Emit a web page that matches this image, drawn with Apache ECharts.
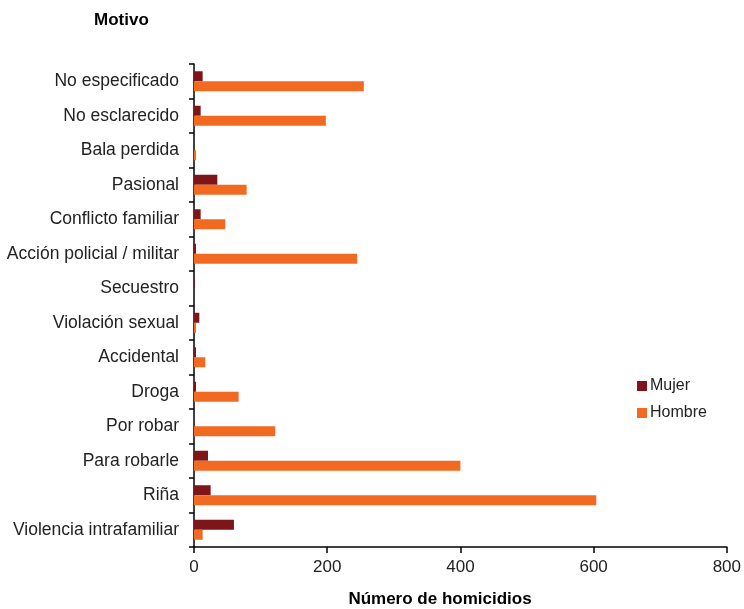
<!DOCTYPE html>
<html>
<head>
<meta charset="utf-8">
<script src="https://cdn.jsdelivr.net/npm/echarts@6/dist/echarts.min.js"></script>
<style>
html,body{margin:0;padding:0;background:#fff;}
#chart{width:744px;height:609px;}
</style>
</head>
<body>
<div id="chart"></div>
<script>
var categories = ["Violencia intrafamiliar","Riña","Para robarle","Por robar","Droga","Accidental","Violación sexual","Secuestro","Acción policial / militar","Conflicto familiar","Pasional","Bala perdida","No esclarecido","No especificado"];
var mujer  = [60, 25, 21, 0, 3, 3, 8, 1, 3, 10, 35, 0, 10, 13];
var hombre = [13, 604, 400, 122, 67, 17, 3, 0, 245, 47, 79, 3, 198, 255];
var xTicks = [0, 200, 400, 600, 800];

var chart = echarts.init(document.getElementById('chart'));
var font = 'Liberation Sans, Arial, sans-serif';
chart.setOption({
  animation: false,
  backgroundColor: '#ffffff',
  title: [
    {text: 'Motivo', left: 89, top: 7, textStyle: {fontFamily: font, fontWeight: 'bold', fontSize: 17, color: '#000'}},
    {text: 'Número de homicidios', left: 440, textAlign: 'center', top: 591, padding: 0, textStyle: {fontFamily: font, fontWeight: 'bold', fontSize: 17, color: '#000'}}
  ],
  legend: {
    data: ['Mujer', 'Hombre'],
    orient: 'vertical',
    left: 632, top: 373,
    itemWidth: 10, itemHeight: 10, itemGap: 11,
    icon: 'rect',
    textStyle: {fontFamily: font, fontSize: 16, color: '#222', padding: [0,0,0,-2]}
  },
  grid: {left: 194, right: 14, top: 64, bottom: 62, containLabel: false},
  xAxis: {
    type: 'value', min: xTicks[0], max: xTicks[xTicks.length-1], interval: 200,
    axisLine: {show: true, lineStyle: {color: '#000', width: 1.5}},
    axisTick: {show: true, length: 6, lineStyle: {color: '#000', width: 1.5}},
    axisLabel: {fontFamily: font, fontSize: 17, color: '#222', margin: 12},
    splitLine: {show: false}
  },
  yAxis: {
    type: 'category', data: categories,
    axisLine: {show: true, lineStyle: {color: '#000', width: 1.5}},
    axisTick: {show: true, length: 5, lineStyle: {color: '#000', width: 1.5}},
    axisLabel: {fontFamily: font, fontSize: 17.5, color: '#222', margin: 15}
  },
  series: [
    {name: 'Mujer', type: 'bar', data: mujer, barWidth: 10, barGap: '0%', itemStyle: {color: '#7e1518'}},
    {name: 'Hombre', type: 'bar', data: hombre, barWidth: 10, barGap: '0%', itemStyle: {color: '#f26a22'}}
  ]
});
</script>
</body>
</html>
